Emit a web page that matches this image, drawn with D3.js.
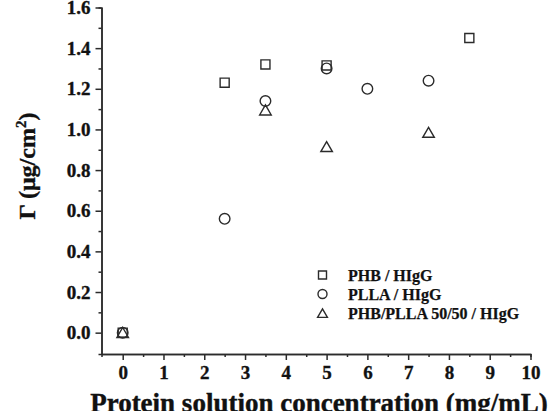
<!DOCTYPE html>
<html>
<head>
<meta charset="utf-8">
<script src="https://cdn.jsdelivr.net/npm/d3@7"></script>
<style>
  body { margin: 0; background: #fff; }
  svg { display: block; font-family: "Liberation Serif", "Times New Roman", serif; }
</style>
</head>
<body>
<div id="chart"></div>
<script>
// data (Γ in µg/cm² vs protein concentration in mg/mL)
const seriesNames = ['PHB / HIgG', 'PLLA / HIgG', 'PHB/PLLA 50/50 / HIgG'];
const phbX = [0, 2.5, 3.5, 5, 8.5];
const phbY = [0, 1.23, 1.32, 1.315, 1.45];
const pllaX = [0, 2.5, 3.5, 5, 6, 7.5];
const pllaY = [0, 0.56, 1.14, 1.30, 1.20, 1.24];
const blendX = [0, 3.5, 5, 7.5];
const blendY = [0, 1.095, 0.915, 0.985];
const xTicks = [0, 1, 2, 3, 4, 5, 6, 7, 8, 9, 10];
const yTicks = [0, 0.2, 0.4, 0.6, 0.8, 1.0, 1.2, 1.4, 1.6];

const width = 549, height = 411;
const ink = '#2b2b2b';

const svg = d3.select('#chart').append('svg')
  .attr('width', width)
  .attr('height', height);

const x = d3.scaleLinear().domain([-0.52, 10]).range([101.5, 530.5]);
const y = d3.scaleLinear().domain([-0.105, 1.6]).range([354, 7.5]);

// minor ticks first, then the major axes on top
svg.append('g')
  .attr('transform', `translate(0,${y.range()[0]})`)
  .call(d3.axisBottom(x).tickValues(d3.range(0.5, 10, 1)).tickSize(3).tickFormat(''));
svg.append('g')
  .attr('transform', `translate(${x.range()[0]},0)`)
  .call(d3.axisLeft(y).tickValues(d3.range(0.1, 1.6, 0.2)).tickSize(3).tickFormat(''));

svg.append('g')
  .attr('class', 'xaxis')
  .attr('transform', `translate(0,${y.range()[0]})`)
  .call(d3.axisBottom(x).tickValues(xTicks).tickSize(6).tickSizeOuter(0).tickPadding(6).tickFormat(d3.format('d')));

svg.append('g')
  .attr('class', 'yaxis')
  .attr('transform', `translate(${x.range()[0]},0)`)
  .call(d3.axisLeft(y).tickValues(yTicks).tickSize(6).tickSizeOuter(0).tickPadding(5).tickFormat(d3.format('.1f')));

svg.selectAll('.domain, .tick line')
  .attr('stroke', ink)
  .attr('stroke-width', 1.5);
svg.selectAll('.tick text')
  .attr('fill', '#111')
  .attr('stroke', '#111')
  .attr('stroke-width', 0.35)
  .style('font-family', '"Liberation Serif", serif')
  .style('font-weight', 'bold')
  .style('font-size', '19px');

// markers
const sq = d3.symbol().type(d3.symbolSquare).size(82);
const ci = d3.symbol().type(d3.symbolCircle).size(88);
const tr = d3.symbol().type(d3.symbolTriangle).size(58);
const shapes = [sq, ci, tr];
const legendShapes = [
  d3.symbol().type(d3.symbolSquare).size(64),
  d3.symbol().type(d3.symbolCircle).size(64),
  d3.symbol().type(d3.symbolTriangle).size(42)
];

const series = [
  phbX.map((v, i) => [v, phbY[i]]),
  pllaX.map((v, i) => [v, pllaY[i]]),
  blendX.map((v, i) => [v, blendY[i]])
];

series.forEach((pts, k) => {
  svg.append('g')
    .selectAll('path')
    .data(pts)
    .enter()
    .append('path')
    .attr('d', shapes[k])
    .attr('transform', d => `translate(${x(d[0])},${y(d[1]) + (k === 2 ? 1.5 : 0)})`)
    .attr('fill', 'none')
    .attr('stroke', ink)
    .attr('stroke-width', 1.4);
});

// legend
const legend = svg.append('g').attr('transform', 'translate(322.5,275)');
seriesNames.forEach((name, k) => {
  const row = legend.append('g').attr('transform', `translate(0,${k * 19})`);
  row.append('path')
    .attr('d', legendShapes[k])
    .attr('transform', k === 2 ? 'translate(0,1.5)' : null)
    .attr('fill', 'none')
    .attr('stroke', ink)
    .attr('stroke-width', 1.4);
  row.append('text')
    .attr('x', 25.5)
    .attr('y', 5.5)
    .attr('fill', '#111')
    .attr('stroke', '#111')
    .attr('stroke-width', 0.25)
    .style('font-weight', 'bold')
    .style('font-size', '16px')
    .text(name);
});

// axis titles (the x title sits on the bottom edge, as in the source figure)
svg.append('text')
  .attr('x', 319)
  .attr('y', 412)
  .attr('text-anchor', 'middle')
  .attr('fill', '#111')
  .attr('stroke', '#111')
  .attr('stroke-width', 0.4)
  .style('font-weight', 'bold')
  .style('font-size', '27px')
  .text('Protein solution concentration (mg/mL)');

svg.append('text')
  .attr('transform', 'translate(35,166) rotate(-90)')
  .attr('text-anchor', 'middle')
  .attr('fill', '#111')
  .attr('stroke', '#111')
  .attr('stroke-width', 0.35)
  .style('font-weight', 'bold')
  .style('font-size', '24px')
  .html('Γ (μg/cm<tspan dy="-9" font-size="15px">2</tspan><tspan dy="9">)</tspan>');
</script>
</body>
</html>
